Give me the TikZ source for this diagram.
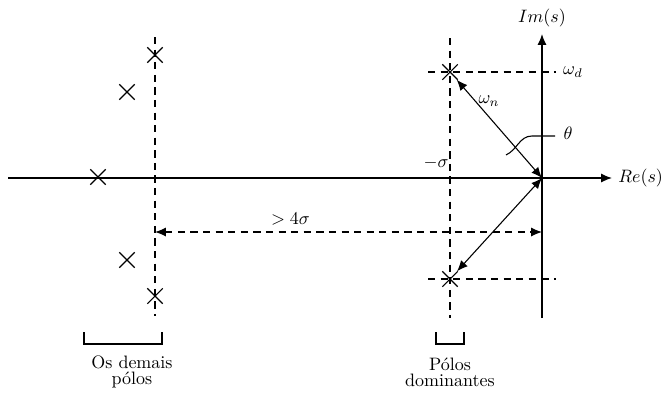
\documentclass[tikz,border=0pt]{standalone}
\usepackage{amsmath}
\usetikzlibrary{arrows.meta,shapes.misc}

\begin{document}
\begin{tikzpicture}[x=0.556pt,y=-0.556pt,>={Latex[length=6pt,width=5pt]},axis/.style={thick,->},guide/.style={semithick,dash pattern=on 4pt off 3pt},pole/.style={draw,semithick,cross out,minimum size=8pt,inner sep=0pt},bracket/.style={semithick},lbl/.style={align=center}]
\useasboundingbox (0,0) rectangle (671,397);
\coordinate (O) at (542,178);\coordinate (reL) at (8,178);\coordinate (reR) at (612,178);\coordinate (imB) at (542,318);\coordinate (imT) at (542,34);
\draw[axis] (reL)--(reR);\draw[axis] (imB)--(imT);
\node[anchor=west] (re) at (612,178) {$Re(s)$};\node (im) at (542,18) {$Im(s)$};
% polos dominantes
\node[pole] (p1) at (450,72) {};\node[pole] (p2) at (450,279) {};
\draw[guide] (450,38)--(450,318);\draw[guide] (428,72)--(556,72);\draw[guide] (428,279)--(556,279);
\node (wd) at (573,72) {$\omega_d$};\node (sig) at (436,163) {$-\sigma$};
\draw[semithick,<->] (p1)--(O);\draw[semithick,<->] (p2)--(O);
\node (wn) at (489,101) {$\omega_n$};
\draw[semithick] (506,155) to[out=25,in=180] (532,136)--(555,136);\node (th) at (568,133) {$\theta$};
% demais polos
\draw[guide] (155,37)--(155,316);
\node[pole] (q1) at (155,55) {};\node[pole] (q2) at (127,92) {};\node[pole] (q3) at (98,177) {};\node[pole] (q4) at (127,260) {};\node[pole] (q5) at (155,296) {};
\coordinate (dl) at (155,232);\coordinate (dr) at (542,232);
\draw[guide,<->] (dl)--node[above,pos=0.35] {$>4\sigma$}(dr);
% chaves
\draw[bracket] (84,332)--(84,344)--(162,344)--(162,332);\draw[bracket] (436,332)--(436,344)--(464,344)--(464,332);
\node[lbl] (dem) at (132,372) {Os demais\\[-3pt]pólos};\node[lbl] (dom) at (450,372) {Pólos\\[-3pt]dominantes};
\end{tikzpicture}
\end{document}
